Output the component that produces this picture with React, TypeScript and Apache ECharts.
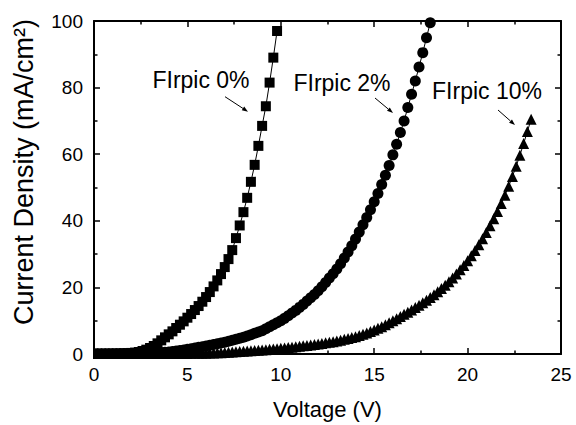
import React, { useEffect, useRef } from "react";
import * as echarts from "echarts";

const voltage = [
  0, 0.2, 0.4, 0.6, 0.8, 1, 1.2, 1.4, 1.6, 1.8,
  2, 2.2, 2.4, 2.6, 2.8, 3, 3.2, 3.4, 3.6, 3.8,
  4, 4.2, 4.4, 4.6, 4.8, 5, 5.2, 5.4, 5.6, 5.8,
  6, 6.2, 6.4, 6.6, 6.8, 7, 7.2, 7.4, 7.6, 7.8,
  8, 8.2, 8.4, 8.6, 8.8, 9, 9.2, 9.4, 9.6, 9.8,
  10, 10.2, 10.4, 10.6, 10.8, 11, 11.2, 11.4, 11.6, 11.8,
  12, 12.2, 12.4, 12.6, 12.8, 13, 13.2, 13.4, 13.6, 13.8,
  14, 14.2, 14.4, 14.6, 14.8, 15, 15.2, 15.4, 15.6, 15.8,
  16, 16.2, 16.4, 16.6, 16.8, 17, 17.2, 17.4, 17.6, 17.8,
  18, 18.2, 18.4, 18.6, 18.8, 19, 19.2, 19.4, 19.6, 19.8,
  20, 20.2, 20.4, 20.6, 20.8, 21, 21.2, 21.4, 21.6, 21.8,
  22, 22.2, 22.4, 22.6, 22.8, 23, 23.2, 23.4,
];

// Current density (mA/cm2), one value per voltage step
const jFirpic0 = [
  0.05, 0.05, 0.06, 0.07, 0.08, 0.1, 0.12, 0.15, 0.2, 0.25,
  0.32, 0.42, 0.6, 0.9, 1.3, 1.8, 2.4, 3.2, 4.1, 5.0,
  5.9, 6.8, 7.8, 8.8, 9.8, 10.9, 12.0, 13.2, 14.4, 15.7,
  17.1, 18.6, 20.3, 22.1, 24.0, 26.1, 28.5, 31.2, 34.8, 38.6,
  42.6, 46.9, 51.7, 56.8, 62.5, 68.5, 74.4, 81.5, 89.0, 97.0,
];

const jFirpic2 = [
  0.05, 0.05, 0.05, 0.06, 0.06, 0.07, 0.07, 0.08, 0.09, 0.1,
  0.12, 0.14, 0.16, 0.19, 0.22, 0.26, 0.31, 0.37, 0.44, 0.52,
  0.6, 0.75, 0.9, 1.05, 1.2, 1.4, 1.6, 1.8, 2.0, 2.2,
  2.4, 2.6, 2.85, 3.1, 3.3, 3.5, 3.8, 4.1, 4.4, 4.7,
  5.0, 5.4, 5.8, 6.2, 6.6, 7.0, 7.6, 8.2, 8.8, 9.4,
  10.0, 10.7, 11.5, 12.3, 13.1, 14.0, 14.9, 15.9, 16.9, 17.9,
  19.0, 20.2, 21.5, 22.8, 24.1, 25.5, 27.1, 28.8, 30.6, 32.5,
  34.5, 36.6, 38.8, 41.0, 43.3, 45.7, 48.2, 50.9, 53.7, 56.6,
  59.8, 63.0, 66.5, 70.0, 74.0, 78.0, 82.0, 86.2, 90.5, 95.0,
  99.5,
];

const jFirpic10 = [
  0.05, 0.05, 0.05, 0.05, 0.05, 0.05, 0.06, 0.06, 0.06, 0.07,
  0.07, 0.07, 0.08, 0.08, 0.09, 0.09, 0.1, 0.1, 0.11, 0.12,
  0.13, 0.14, 0.15, 0.16, 0.17, 0.18, 0.19, 0.2, 0.22, 0.23,
  0.25, 0.28, 0.32, 0.36, 0.4, 0.45, 0.51, 0.58, 0.65, 0.72,
  0.8, 0.88, 0.96, 1.04, 1.12, 1.2, 1.3, 1.4, 1.5, 1.6,
  1.7, 1.82, 1.94, 2.06, 2.18, 2.3, 2.44, 2.58, 2.72, 2.86,
  3.0, 3.17, 3.35, 3.53, 3.71, 3.9, 4.15, 4.4, 4.65, 4.92,
  5.2, 5.55, 5.92, 6.32, 6.75, 7.2, 7.7, 8.22, 8.77, 9.35,
  9.95, 10.6, 11.25, 11.9, 12.55, 13.25, 13.95, 14.67, 15.4, 16.15,
  16.95, 17.8, 18.7, 19.65, 20.65, 21.7, 22.85, 24.05, 25.3, 26.6,
  28.0, 29.5, 31.1, 32.8, 34.6, 36.5, 38.5, 40.6, 42.8, 45.2,
  47.7, 50.4, 53.3, 56.4, 59.7, 63.2, 66.8, 70.5,
];

const seriesNames = ["FIrpic 0%", "FIrpic 2%", "FIrpic 10%"];
const xTicks = { min: 0, max: 25, interval: 5 };
const yTicks = { min: 0, max: 100, interval: 20 };

const FONT = "'Liberation Sans', Arial, Helvetica, sans-serif";

function arrowHead(x1: number, y1: number, x2: number, y2: number) {
  const dx = x2 - x1;
  const dy = y2 - y1;
  const len = Math.sqrt(dx * dx + dy * dy);
  const ux = dx / len;
  const uy = dy / len;
  const hl = 6;
  const hw = 2.2;
  const bx = x2 - ux * hl;
  const by = y2 - uy * hl;
  return [
    {
      type: "line",
      shape: { x1, y1, x2: bx, y2: by },
      style: { stroke: "#000", lineWidth: 1 },
      z: 50,
    },
    {
      type: "polygon",
      shape: {
        points: [
          [x2, y2],
          [bx - uy * hw, by + ux * hw],
          [bx + uy * hw, by - ux * hw],
        ],
      },
      style: { fill: "#000" },
      z: 50,
    },
  ];
}

export default function App() {
  const ref = useRef<HTMLDivElement>(null);

  useEffect(() => {
    if (!ref.current) return;
    const chart = echarts.init(ref.current, undefined, { renderer: "svg" });

    const axisLine = { show: true, onZero: false, lineStyle: { color: "#000", width: 2 } };
    const axisTick = { show: true, inside: true, length: 6, lineStyle: { color: "#000", width: 1.5 } };
    const minorTick = { show: true, splitNumber: 2, length: 3.5, lineStyle: { color: "#000", width: 1.5 } };

    const mk = (name: string, ys: number[], symbol: string, size: number) => ({
      name,
      type: "line",
      data: ys.map((j, i) => [voltage[i], j]),
      symbol,
      symbolSize: size,
      showAllSymbol: true,
      itemStyle: { color: "#000" },
      lineStyle: { color: "#000", width: 1 },
      z: 3,
    });

    chart.setOption({
      animation: false,
      backgroundColor: "#fff",
      grid: { left: 94, top: 21, right: 15, bottom: 68, containLabel: false },
      xAxis: [
        {
          type: "value",
          ...xTicks,
          position: "bottom",
          axisLine,
          axisTick,
          minorTick,
          splitLine: { show: false },
          axisLabel: { color: "#000", fontSize: 19, fontFamily: FONT, margin: 11 },
          name: "Voltage (V)",
          nameLocation: "middle",
          nameGap: 44,
          nameTextStyle: { color: "#000", fontSize: 22, fontFamily: FONT },
        },
        {
          type: "value",
          ...xTicks,
          position: "top",
          axisLine,
          axisTick,
          minorTick,
          splitLine: { show: false },
          axisLabel: { show: false },
        },
      ],
      yAxis: [
        {
          type: "value",
          ...yTicks,
          position: "left",
          axisLine,
          axisTick,
          minorTick,
          splitLine: { show: false },
          axisLabel: { color: "#000", fontSize: 19, fontFamily: FONT, margin: 11 },
        },
        {
          type: "value",
          ...yTicks,
          position: "right",
          axisLine,
          axisTick,
          minorTick,
          splitLine: { show: false },
          axisLabel: { show: false },
        },
      ],
      series: [
        mk(seriesNames[0], jFirpic0, "rect", 10),
        mk(seriesNames[1], jFirpic2, "circle", 11),
        mk(seriesNames[2], jFirpic10, "triangle", 11),
      ],
      graphic: [
        // mask marks that spill outside the frame
        { type: "rect", shape: { x: 86, y: 359, width: 484, height: 9 }, style: { fill: "#fff" }, z: 40 },
        { type: "rect", shape: { x: 85, y: 330, width: 8, height: 38 }, style: { fill: "#fff" }, z: 40 },
        {
          type: "text",
          x: 24,
          y: 172,
          rotation: Math.PI / 2,
          style: {
            text: "Current Density (mA/cm²)",
            fill: "#000",
            font: `27px ${FONT}`,
            textAlign: "center",
            textVerticalAlign: "middle",
          },
          z: 50,
        },
        {
          type: "text",
          x: 201,
          y: 80,
          style: { text: seriesNames[0], fill: "#000", font: `23px ${FONT}`, textAlign: "center", textVerticalAlign: "middle" },
          z: 50,
        },
        {
          type: "text",
          x: 342,
          y: 83,
          style: { text: seriesNames[1], fill: "#000", font: `23px ${FONT}`, textAlign: "center", textVerticalAlign: "middle" },
          z: 50,
        },
        {
          type: "text",
          x: 487,
          y: 91,
          style: { text: seriesNames[2], fill: "#000", font: `23px ${FONT}`, textAlign: "center", textVerticalAlign: "middle" },
          z: 50,
        },
        ...arrowHead(225, 96.7, 248, 111.7),
        ...arrowHead(375, 98, 393, 113),
        ...arrowHead(498, 110, 515, 125),
      ],
    });

    return () => chart.dispose();
  }, []);

  return (
    <div
      ref={ref}
      style={{ position: "absolute", left: 0, top: 0, width: 576, height: 425, background: "#fff" }}
    />
  );
}
